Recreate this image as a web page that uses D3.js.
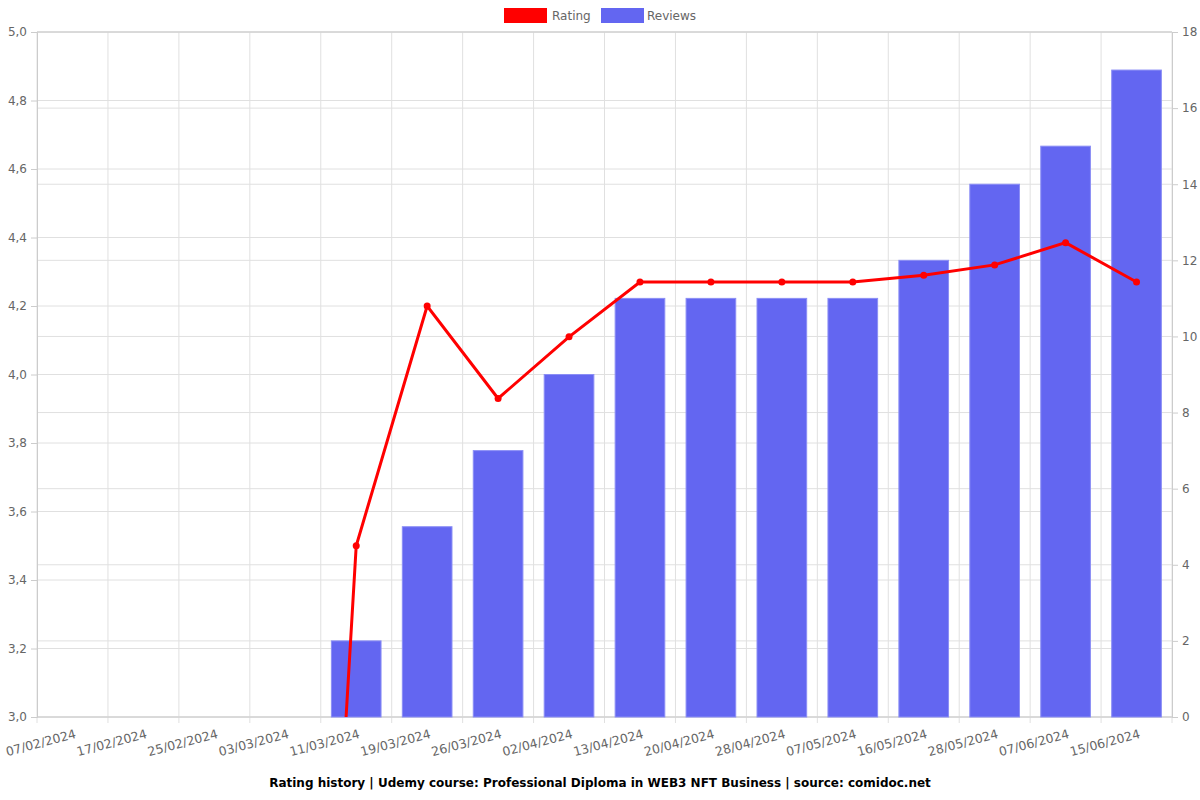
<!DOCTYPE html>
<html><head><meta charset="utf-8">
<script src="https://cdn.jsdelivr.net/npm/d3@7"></script>
<style>body{margin:0;background:#fff;font-family:"DejaVu Sans",sans-serif;}</style>
</head><body><svg id="c" width="1200" height="800"></svg>
<script>
const categories = ["07/02/2024","17/02/2024","25/02/2024","03/03/2024","11/03/2024","19/03/2024","26/03/2024","02/04/2024","13/04/2024","20/04/2024","28/04/2024","07/05/2024","16/05/2024","28/05/2024","07/06/2024","15/06/2024"];
const ratings = [0,0,0,0,3.5,4.2,3.93,4.11,4.27,4.27,4.27,4.27,4.29,4.32,4.385,4.27];
const reviews = [0,0,0,0,2,5,7,9,11,11,11,11,12,14,15,17];
const leftTicks = [3.0,3.2,3.4,3.6,3.8,4.0,4.2,4.4,4.6,4.8,5.0];
const rightTicks = [0,2,4,6,8,10,12,14,16,18];
const title = "Rating history | Udemy course: Professional Diploma in WEB3 NFT Business | source: comidoc.net";

const svg = d3.select("#c");
const L=37, R=1172, T=32, B=717;
const x = d3.scaleBand().domain(categories).range([L,R]).paddingInner(0.3).paddingOuter(0.15);
const xb = d3.scaleBand().domain(categories).range([L,R]);
const yL = d3.scaleLinear().domain([3,5]).range([B,T]);
const yR = d3.scaleLinear().domain([0,18]).range([B,T]);
const grid="#e0e0e0", txt="#666";

// grid
const g = svg.append("g");
leftTicks.forEach(t=>g.append("line").attr("x1",L).attr("x2",R).attr("y1",yL(t)).attr("y2",yL(t)).attr("stroke",grid));
rightTicks.forEach(t=>g.append("line").attr("x1",L).attr("x2",R).attr("y1",yR(t)).attr("y2",yR(t)).attr("stroke",grid));
const vx = categories.map(c=>xb(c)).concat([R]);
vx.forEach(v=>g.append("line").attr("x1",v).attr("x2",v).attr("y1",T).attr("y2",B+6).attr("stroke",grid));

// axes
const axL = svg.append("g").attr("transform",`translate(${L},0)`).call(d3.axisLeft(yL).tickValues(leftTicks).tickFormat(d=>d3.format(".1f")(d).replace(".",",")).tickSize(6).tickPadding(4));
const axR = svg.append("g").attr("transform",`translate(${R},0)`).call(d3.axisRight(yR).tickValues(rightTicks).tickSize(6).tickPadding(4));
[axL,axR].forEach(a=>{a.select(".domain").attr("stroke","#ccc");a.selectAll(".tick line").attr("stroke","#ccc");a.selectAll("text").attr("fill",txt).style("font-size","12px").style("font-family","DejaVu Sans");});
svg.append("line").attr("x1",L).attr("x2",R).attr("y1",B).attr("y2",B).attr("stroke","#ccc");
svg.append("line").attr("x1",L).attr("x2",R).attr("y1",T).attr("y2",T).attr("stroke","#ccc");

// bars
svg.append("g").selectAll("rect").data(categories).join("rect")
 .attr("x",c=>x(c)).attr("width",x.bandwidth())
 .attr("y",(c,i)=>yR(reviews[i])).attr("height",(c,i)=>B-yR(reviews[i]))
 .attr("fill","#6366f1").attr("stroke","#8b8ef5").attr("stroke-width",1);

// x labels
svg.append("g").selectAll("text").data(categories).join("text")
 .attr("transform",c=>`translate(${xb(c)+xb.bandwidth()/2+2},${B+12}) rotate(-15)`)
 .attr("text-anchor","end").attr("dy","0.71em").attr("fill",txt).style("font-size","12.5px").text(c=>c);

// line
svg.append("clipPath").attr("id","clip").append("rect").attr("x",L).attr("y",T-5).attr("width",R-L).attr("height",B-T+5);
const cx = c=>xb(c)+xb.bandwidth()/2;
const lg = svg.append("g").attr("clip-path","url(#clip)");
lg.append("path").datum(categories).attr("fill","none").attr("stroke","#ff0000").attr("stroke-width",3)
 .attr("d",d3.line().x(c=>cx(c)).y((c,i)=>yL(ratings[i])));
lg.selectAll("circle").data(categories).join("circle").attr("cx",cx).attr("cy",(c,i)=>yL(ratings[i])).attr("r",3.5).attr("fill","#ff0000");

// legend
const leg = svg.append("g");
leg.append("rect").attr("x",504).attr("y",8).attr("width",43).attr("height",15).attr("fill","#ff0000");
leg.append("text").attr("x",552).attr("y",20).attr("fill",txt).style("font-size","12px").text("Rating");
leg.append("rect").attr("x",601).attr("y",8).attr("width",43).attr("height",15).attr("fill","#6366f1");
leg.append("text").attr("x",647).attr("y",20).attr("fill",txt).style("font-size","12px").text("Reviews");

// title
svg.append("text").attr("x",600).attr("y",787).attr("text-anchor","middle").style("font-size","12px").style("font-weight","bold").attr("fill","#000").text(title);
</script></body></html>
